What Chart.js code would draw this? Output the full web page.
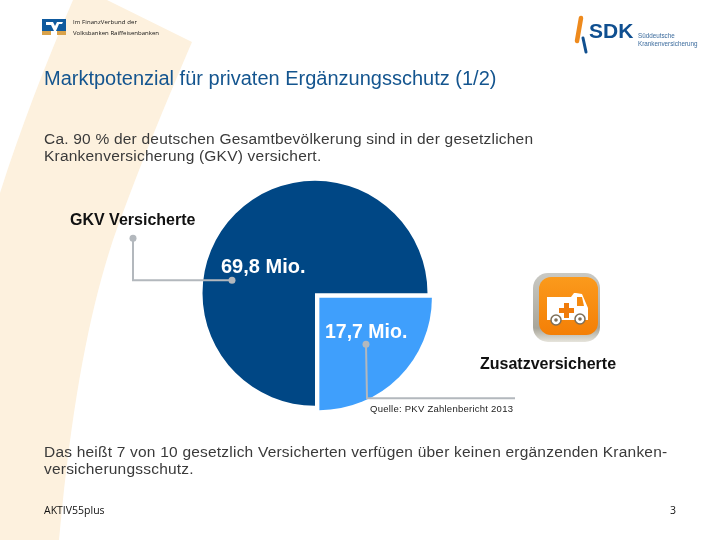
<!DOCTYPE html>
<html lang="de">
<head>
<meta charset="utf-8">
<title>Marktpotenzial</title>
<script src="https://cdn.jsdelivr.net/npm/chart.js@4/dist/chart.umd.min.js"></script>
<style>
  html, body { margin: 0; background: #fff; }
  #folie { position: relative; width: 720px; height: 540px; overflow: hidden; font-family: "Liberation Sans", Arial, sans-serif; }
  #grafik { position: absolute; left: 0; top: 0; }
  .txt { position: absolute; white-space: nowrap; color: #3a3a3a; }
  .body { font-size: 15.5px; letter-spacing: .21px; line-height: 17px; }
  svg { position: absolute; }
</style>
</head>
<body>
<div id="folie">
  <!-- Hintergrund-Schwung -->
  <svg style="left:0;top:0" width="720" height="540" viewBox="0 0 720 540">
    <path d="M73 0 H107 L192 42 C165 105 140 165 113 240 C90 310 72 400 59 540 H0 V193 C20 130 45 65 73 0 Z" fill="#fdf1de"/>
  </svg>

  <canvas id="grafik" width="720" height="540"></canvas>

  <!-- Logo Volksbanken -->
  <svg style="left:42px;top:19px" width="25" height="17" viewBox="0 0 25 17">
    <rect width="24" height="12" fill="#0f5a9e"/>
    <rect y="12" width="9" height="4" fill="#d9a24a"/>
    <rect x="15" y="12" width="9" height="4" fill="#d9a24a"/>
    <path d="M4 3h7l2 4 2-4h6l-1 2h-3l-3 7v4h-2v-4l-3-6h-5z" fill="#fff"/>
  </svg>
  <div class="txt" style="left:73px;top:18px;font:6px 'Open Sans';letter-spacing:.1px;color:#111">Im FinanzVerbund der</div>
  <div class="txt" style="left:73px;top:29px;font:6px 'Open Sans';letter-spacing:.02px;color:#111">Volksbanken Raiffeisenbanken</div>

  <!-- Logo SDK -->
  <svg style="left:572px;top:14px" width="22" height="42" viewBox="0 0 22 42">
    <path d="M9 4 L5 27" stroke="#ee8a1d" stroke-width="4.5" stroke-linecap="round" fill="none"/>
    <path d="M11 24 L14 38" stroke="#11508f" stroke-width="3" stroke-linecap="round" fill="none"/>
  </svg>
  <div class="txt" style="left:589px;top:19px;font:bold 21px 'Liberation Sans';color:#0f4f90">SDK</div>
  <div class="txt" style="left:638px;top:32px;font:6.3px 'Liberation Sans';color:#3b6b9d">Süddeutsche</div>
  <div class="txt" style="left:638px;top:40px;font:6.3px 'Liberation Sans';color:#3b6b9d">Krankenversicherung</div>

  <div class="txt" style="left:44px;top:67px;font-size:20px;color:#14558f">Marktpotenzial für privaten Ergänzungsschutz (1/2)</div>
  <div class="txt body" style="left:44px;top:130px">Ca. 90 % der deutschen Gesamtbevölkerung sind in der gesetzlichen<br>Krankenversicherung (GKV) versichert.</div>

  <!-- Icon Krankenwagen -->
  <svg style="left:530px;top:270px" width="74" height="76" viewBox="0 0 74 76">
    <defs>
      <linearGradient id="orange" x1="0" y1="0" x2="0" y2="1">
        <stop offset="0" stop-color="#fb9a1c"/><stop offset="1" stop-color="#f47f06"/>
      </linearGradient>
      <linearGradient id="rahmen" x1="0" y1="0" x2="0" y2="1">
        <stop offset="0" stop-color="#c9c9c4"/><stop offset="0.8" stop-color="#a9a69a"/><stop offset="1" stop-color="#e6e4dc"/>
      </linearGradient>
    </defs>
    <rect x="3" y="3" width="67" height="69" rx="15" fill="url(#rahmen)"/>
    <rect x="9" y="7" width="59" height="58" rx="12" fill="url(#orange)"/>
    <path d="M17 27 H41 L44 23 H46 L52 24 L58 38 V50 H17 Z" fill="#fff"/>
    <path d="M47 27 H52 L54 36 H47 Z" fill="#f58a0f"/>
    <path d="M34 33 h5 v5 h5 v5 h-5 v5 h-5 v-5 h-5 v-5 h5z" fill="#f07b0a"/>
    <circle cx="26" cy="50" r="5" fill="#fff" stroke="#7e6f58" stroke-width="1.5"/>
    <circle cx="26" cy="50" r="1.8" fill="#7e6f58"/>
    <circle cx="50" cy="49" r="5" fill="#fff" stroke="#7e6f58" stroke-width="1.5"/>
    <circle cx="50" cy="49" r="1.8" fill="#7e6f58"/>
  </svg>

  <div class="txt" style="left:370px;top:403px;font-size:9.5px;letter-spacing:.25px;color:#222">Quelle: PKV Zahlenbericht 2013</div>
  <div class="txt body" style="left:44px;top:443px">Das heißt 7 von 10 gesetzlich Versicherten verfügen über keinen ergänzenden Kranken-<br>versicherungsschutz.</div>
  <div class="txt" style="left:44px;top:503px;font:10.5px 'Open Sans';color:#111">AKTIV55plus</div>
  <div class="txt" style="left:670px;top:503px;font:10.5px 'Open Sans';color:#111">3</div>
</div>

<script>
// Flächenanteile wie im Bild gezeichnet (Viertelkreis), Beschriftung separat
const gruppen = ["GKV Versicherte", "Zusatzversicherte"];
const anteile = [75, 25];
const werteText = ["69,8 Mio.", "17,7 Mio."];

const FARBEN = ["#004785", "#3f9ffc"];
// Chart.js zeichnet nur ein Viertel des Offsets als Verschiebung
const VERSATZ = [0, 24.8];
const LINIE = "#b3b8bd";

const KREIS_X = 315, KREIS_Y = 293.3, RADIUS = 112.5;
const RAND = RADIUS + VERSATZ[1] / 2;

function linienzug(ctx, punkte) {
  ctx.beginPath();
  punkte.forEach((p, i) => (i ? ctx.lineTo(p[0], p[1]) : ctx.moveTo(p[0], p[1])));
  ctx.stroke();
  [punkte[0], punkte[punkte.length - 1]].forEach((p) => {
    if (p[2]) {
      ctx.beginPath();
      ctx.arc(p[0], p[1], 3.5, 0, Math.PI * 2);
      ctx.fill();
    }
  });
}

// Beschriftung und Führungslinien relativ zum Mittelpunkt der Torte
const beschriftung = {
  id: "beschriftung",
  afterDatasetsDraw(chart) {
    const ctx = chart.ctx;
    const a = chart.getDatasetMeta(0).data[0];
    const cx = a.x, cy = a.y;
    ctx.save();
    ctx.strokeStyle = LINIE;
    ctx.fillStyle = LINIE;
    ctx.lineWidth = 2;
    linienzug(ctx, [[cx - 182, cy - 55, true], [cx - 182, cy - 13], [cx - 83, cy - 13, true]]);
    linienzug(ctx, [[cx + 51, cy + 51, true], [cx + 52, cy + 105], [cx + 200, cy + 105]]);

    ctx.textBaseline = "alphabetic";
    ctx.font = "bold 16px 'Liberation Sans'";
    ctx.fillStyle = "#111";
    ctx.fillText(gruppen[0], cx - 245, cy - 68);
    ctx.fillText(gruppen[1], cx + 165, cy + 76);

    ctx.font = "bold 20px 'Liberation Sans'";
    ctx.fillStyle = "#fff";
    ctx.fillText(werteText[0], cx - 94, cy - 20);
    ctx.font = "bold 19.5px 'Liberation Sans'";
    ctx.fillText(werteText[1], cx + 10, cy + 45);
    ctx.restore();
  },
};

new Chart(document.getElementById("grafik"), {
  type: "pie",
  data: {
    labels: gruppen,
    datasets: [{
      data: anteile,
      backgroundColor: FARBEN,
      borderWidth: 0,
      offset: VERSATZ,
    }],
  },
  options: {
    responsive: false,
    animation: false,
    rotation: 180,
    layout: {
      padding: {
        left: KREIS_X - RAND,
        right: 720 - KREIS_X - RAND,
        top: KREIS_Y - RAND,
        bottom: 540 - KREIS_Y - RAND,
      },
    },
    plugins: { legend: { display: false }, tooltip: { enabled: false } },
  },
  plugins: [beschriftung],
});
</script>
</body>
</html>
